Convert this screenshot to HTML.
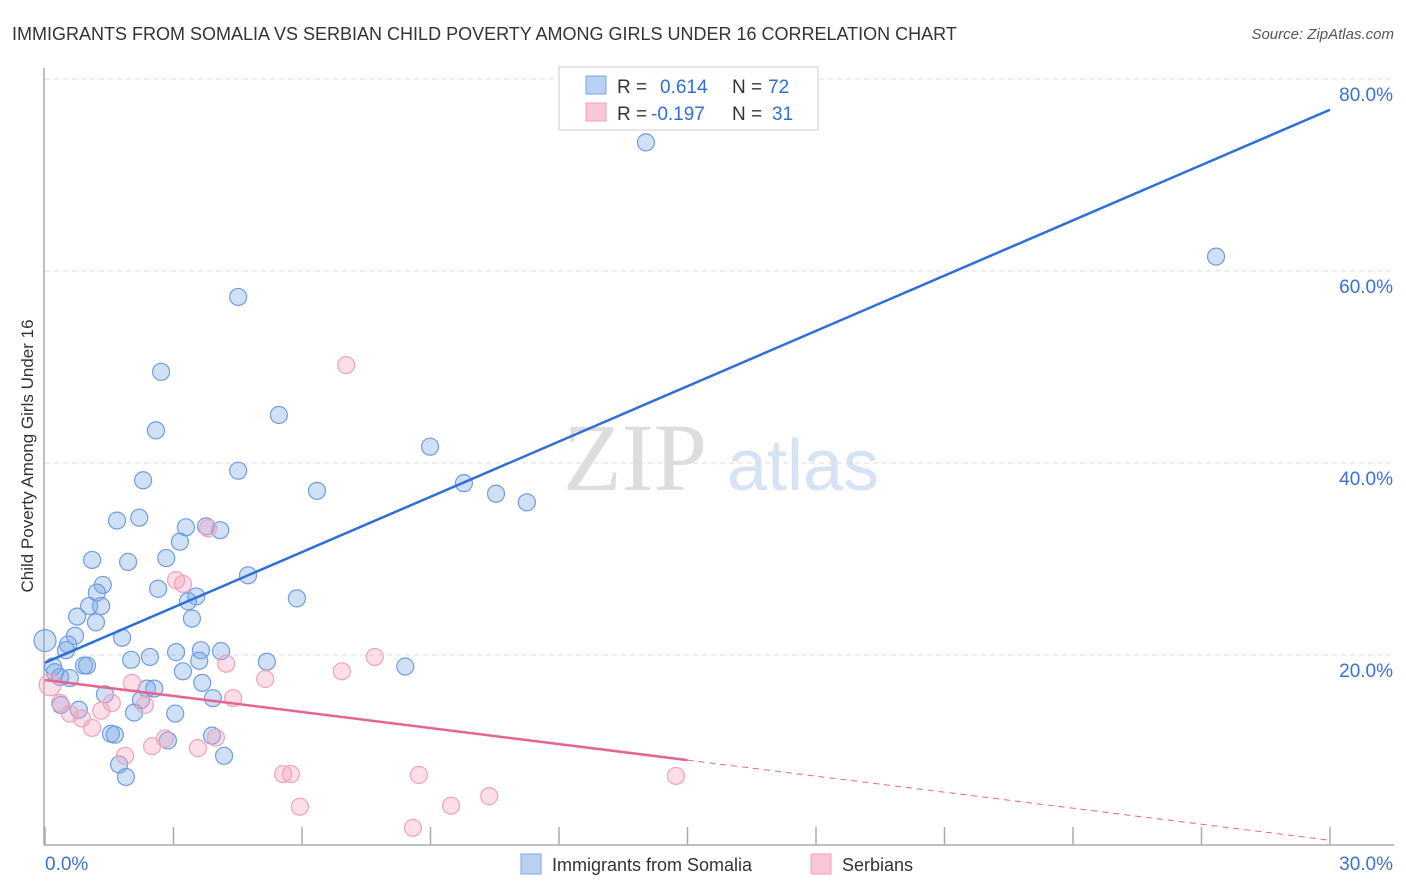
<!DOCTYPE html>
<html><head><meta charset="utf-8"><style>
body{margin:0;background:#fff;font-family:"Liberation Sans",sans-serif;}
</style></head><body>
<svg id="chart" width="1406" height="892" xmlns="http://www.w3.org/2000/svg" style="display:block">
<text x="12" y="40" font-size="18" fill="#333">IMMIGRANTS FROM SOMALIA VS SERBIAN CHILD POVERTY AMONG GIRLS UNDER 16 CORRELATION CHART</text>
<text x="1394" y="39" font-size="15" fill="#555" font-style="italic" text-anchor="end">Source: ZipAtlas.com</text>
<text transform="translate(33,456) rotate(-90)" font-size="17" fill="#333" text-anchor="middle">Child Poverty Among Girls Under 16</text>
<g>
<text x="635" y="490" font-size="96" fill="#ddd" font-family="Liberation Serif" text-anchor="middle">ZIP</text>
<text x="803" y="490" font-size="72" fill="#d6e3f3" text-anchor="middle">atlas</text>
</g>
<g id="grid"></g><g id="axes"></g><g id="pts"></g><g id="lines"></g>
<g>
<rect x="559" y="67" width="259" height="63" fill="#fff" stroke="#ccc"/>
<rect x="586" y="76" width="20" height="18" fill="#b8d0f2" stroke="#7aa6e0"/>
<rect x="586" y="103" width="20" height="18" fill="#f8c6d6" stroke="#eea2bb"/>
<text x="617" y="93" font-size="19" fill="#333">R =</text><text x="660" y="93" font-size="19" fill="#2f6fd6">0.614</text>
<text x="732" y="93" font-size="19" fill="#333">N =</text><text x="768" y="93" font-size="19" fill="#2f6fd6">72</text>
<text x="617" y="120" font-size="19" fill="#333">R =</text><text x="651" y="120" font-size="19" fill="#2f6fd6">-0.197</text>
<text x="732" y="120" font-size="19" fill="#333">N =</text><text x="772" y="120" font-size="19" fill="#2f6fd6">31</text>
</g>
<g>
<rect x="521" y="854" width="20" height="20" fill="#b8d0f2" stroke="#7aa6e0"/>
<text x="552" y="871" font-size="18" fill="#333">Immigrants from Somalia</text>
<rect x="811" y="854" width="20" height="20" fill="#f8c6d6" stroke="#eea2bb"/>
<text x="842" y="871" font-size="18" fill="#333">Serbians</text>
</g>
</svg>
<script>
const yTicks=[20,40,60,80];
const yTickLabels=["20.0%","40.0%","60.0%","80.0%"];
const xTicks=[0,3,6,9,12,15,18,21,24,27,30];
const blueX=[14.03,27.34,4.51,2.71,5.46,2.59,8.99,4.51,2.29,9.78,6.35,10.53,11.25,1.68,2.20,3.29,3.76,4.09,3.15,1.10,1.94,2.83,4.74,1.35,2.64,1.21,3.53,3.34,5.88,1.03,1.31,0.75,1.19,3.43,0.70,1.80,0,0.54,0.49,3.06,3.64,4.11,2.01,2.45,3.60,5.18,8.41,0.19,0.91,0.98,0.23,3.22,0.35,0.58,3.67,2.38,2.55,1.40,2.24,3.92,0.37,0.79,2.08,3.04,3.90,1.54,1.63,2.87,4.18,1.73,1.89];
const blueY=[73.4,61.5,57.3,49.5,45.0,43.4,41.7,39.2,38.2,37.9,37.1,36.8,35.9,34.0,34.3,33.3,33.4,33.0,31.8,29.9,29.7,30.1,28.3,27.3,26.9,26.5,26.1,25.6,25.9,25.1,25.1,24.0,23.4,23.8,22.0,21.8,21.5,21.1,20.5,20.3,20.5,20.4,19.5,19.8,19.4,19.3,18.8,18.8,18.9,18.9,18.2,18.3,17.7,17.6,17.1,16.5,16.5,15.9,15.3,15.5,14.8,14.3,14.0,13.9,11.6,11.8,11.7,11.1,9.5,8.6,7.3];
const pinkX=[7.03,3.81,3.06,3.22,7.70,4.23,6.93,5.14,2.03,0.12,4.39,1.56,2.33,0.35,1.31,0.58,0.86,1.10,2.80,3.99,2.50,3.57,1.87,5.56,5.74,8.73,14.73,10.37,5.95,9.48,8.59];
const pinkY=[50.2,33.2,27.8,27.4,19.8,19.1,18.3,17.5,17.1,16.9,15.5,15.0,14.8,15.0,14.2,13.9,13.4,12.4,11.3,11.4,10.5,10.3,9.5,7.6,7.6,7.5,7.4,5.3,4.2,4.3,2.0];
const blueFit=[19.2,76.8];
const pinkFit=[17.4,0.7];
const pinkSolidEnd=15;
const NS="http://www.w3.org/2000/svg";
const X=v=>45+v*(1285/30), Y=v=>847-v*9.6;
function mk(p,t,a){const e=document.createElementNS(NS,t);for(const k in a)e.setAttribute(k,a[k]);p.appendChild(e);return e;}
const grid=document.getElementById('grid'),axes=document.getElementById('axes'),pts=document.getElementById('pts'),lines=document.getElementById('lines');
yTicks.forEach((v,i)=>{
 const g=mk(grid,'line',{x1:45,x2:1394,y1:Y(v),y2:Y(v),stroke:'#ddd','stroke-dasharray':'5,4'});
 
 
 const t=mk(axes,'text',{x:1393,y:Y(v)+22,'font-size':19,fill:'#3a72d4','text-anchor':'end'});t.textContent=yTickLabels[i];
 
 
});
const tg=mk(grid,'line',{x1:45,x2:1394,y1:Y(80),y2:Y(80),stroke:'#ddd','stroke-dasharray':'5,4'});
mk(axes,'line',{x1:44,x2:44,y1:68,y2:845,stroke:'#aaa','stroke-width':1.5});
mk(axes,'line',{x1:44,x2:1394,y1:845,y2:845,stroke:'#aaa','stroke-width':1.5});
xTicks.forEach(v=>{const l=mk(axes,'line',{x1:X(v),x2:X(v),y1:827,y2:845,stroke:'#aaa','stroke-width':1.5});
 
 });
let t0=mk(axes,'text',{x:45,y:870,'font-size':19,fill:'#3a72d4'});t0.textContent="0.0%";
let t1=mk(axes,'text',{x:1393,y:870,'font-size':19,fill:'#3a72d4','text-anchor':'end'});t1.textContent="30.0%";
blueX.forEach((v,i)=>{const c=mk(pts,'circle',{cx:X(v),cy:Y(blueY[i]),r:i==36?11:8.5,fill:'rgba(120,165,230,0.35)',stroke:'#6f9de0','stroke-width':1.2});
 
 });
pinkX.forEach((v,i)=>{const c=mk(pts,'circle',{cx:X(v),cy:Y(pinkY[i]),r:i==9?11:8.5,fill:'rgba(245,160,190,0.35)',stroke:'#eea2bb','stroke-width':1.2});
 
 });
const bl=mk(lines,'line',{x1:X(0),y1:Y(blueFit[0]),x2:X(30),y2:Y(blueFit[1]),stroke:'#2f6fd6','stroke-width':2.5});


const pm=pinkFit[0]+(pinkFit[1]-pinkFit[0])*pinkSolidEnd/30;
const pl=mk(lines,'line',{x1:X(0),y1:Y(pinkFit[0]),x2:X(pinkSolidEnd),y2:Y(pm),stroke:'#e8648f','stroke-width':2.5});


const pd=mk(lines,'line',{x1:X(pinkSolidEnd),y1:Y(pm),x2:X(30),y2:Y(pinkFit[1]),stroke:'#e8648f','stroke-width':1,'stroke-dasharray':'6,5'});


</script>
</body></html>
